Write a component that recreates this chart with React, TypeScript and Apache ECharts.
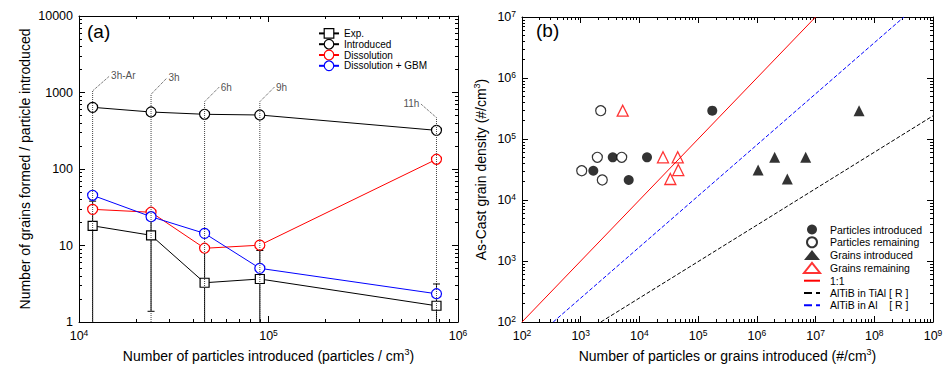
import React, { useEffect, useRef } from 'react';
import * as echarts from 'echarts';

const FONT = '"Liberation Sans", Arial, Helvetica, sans-serif';

// ---------- Panel (a) ----------
const particlesIntroduced = [11800, 24000, 46000, 90000, 770000];
const expGrains = [18.1, 13.6, 3.26, 3.65, 1.63];
const expErrLow = [0.4, 1.38, 0.4, 0.4, 0.4];
const expErrHigh = [38, 26, 8.3, 8.6, 3.14];
const introducedGrains = [640, 556, 519, 508, 320];
const dissolutionGrains = [29.7, 27.2, 9.2, 10.1, 134];
const gbmGrains = [45.3, 23.8, 14.4, 5.03, 2.34];
const conditionLabels = ['3h-Ar', '3h', '6h', '9h', '11h'];
const conditionLineTop = [1050, 947, 758, 758, 469];
const conditionLabelX = [14500, 29100, 55000, 107600, 637000];
const conditionLabelY = [1644, 1548, 1180, 1180, 708];
const conditionLabelSide = ['right', 'right', 'right', 'right', 'left'];
const legendA = ['Exp.', 'Introduced', 'Dissolution', 'Dissolution + GBM'];

// ---------- Panel (b) ----------
const partIntroX = [174000, 3510, 13460, 1640, 6570];
const partIntroY = [291000, 50100, 50100, 30200, 21300];
const partRemainX = [2190, 1920, 4990, 1040, 2330];
const partRemainY = [291000, 50100, 50100, 30200, 21300];
const grainIntroX = [5.5e7, 2.01e6, 6.79e6, 1.05e6, 3.3e6];
const grainIntroY = [291000, 50100, 50100, 31000, 22100];
const grainRemainX = [5190, 25200, 44900, 45900, 33600];
const grainRemainY = [291000, 50100, 50100, 31000, 22100];
const oneToOneX = [100, 1e7];
const oneToOneY = [100, 1e7];
const tiAlX = [2200, 1e9];
const tiAlY = [100, 2.4e5];
const alX = [340, 3.2e8];
const alY = [100, 1e7];
const legendBMarkers = ['Particles introduced', 'Particles remaining', 'Grains introduced', 'Grains remaining'];
const legendBLines = ['1:1', 'AlTiB in TiAl [ R ]', 'AlTiB in Al [ R ]'];

const zip = (xs: number[], ys: number[]) => xs.map((x, i) => [x, ys[i]]);

const powLabel = (v: number) => `{b|10}{s|${Math.round(Math.log10(v))}}`;
const powRich = {
  b: { fontSize: 12.5, fontFamily: FONT, color: '#000', lineHeight: 16 },
  s: { fontSize: 8.5, fontFamily: FONT, color: '#000', verticalAlign: 'top', lineHeight: 10 },
};

const axisBase = (extra: any) => ({
  type: 'log',
  logBase: 10,
  axisLine: { show: true, onZero: false, lineStyle: { color: '#000', width: 1 } },
  axisTick: { show: true, inside: true, length: 6, lineStyle: { color: '#000', width: 1 } },
  minorTick: { show: true, splitNumber: 9, length: 3, lineStyle: { color: '#000', width: 1 } },
  splitLine: { show: false },
  minorSplitLine: { show: false },
  ...extra,
});

const nameRich = {
  s: { fontSize: 9, fontFamily: FONT, color: '#000', verticalAlign: 'top', lineHeight: 10 },
};
const nameStyle = { fontSize: 14, fontFamily: FONT, color: '#000', lineHeight: 18, rich: nameRich };

function buildOption() {
  const openBlack = { color: '#fff', borderColor: '#000', borderWidth: 1.2 };
  const lineSeriesA = (name: string, data: number[], symbol: string, size: number, color: string) => ({
    type: 'line',
    name,
    xAxisIndex: 0,
    yAxisIndex: 0,
    data: zip(particlesIntroduced, data),
    symbol,
    symbolSize: size,
    showSymbol: true,
    lineStyle: { color, width: 1 },
    itemStyle: { color: '#fff', borderColor: color, borderWidth: 1.2 },
    z: 3,
  });

  const annotLines = conditionLabels.map((_, i) => ({
    type: 'line',
    name: 'annot' + i,
    xAxisIndex: 0,
    yAxisIndex: 0,
    data: [
      [particlesIntroduced[i], 1],
      [particlesIntroduced[i], conditionLineTop[i]],
      [conditionLabelX[i], conditionLabelY[i]],
    ],
    symbol: 'none',
    lineStyle: { type: 'dotted', color: '#444', width: 1 },
    z: 6,
    silent: true,
  }));

  const annotText = {
    type: 'scatter',
    name: 'annotText',
    xAxisIndex: 0,
    yAxisIndex: 0,
    symbolSize: 1,
    itemStyle: { color: 'transparent' },
    silent: true,
    z: 6,
    data: conditionLabels.map((t, i) => ({
      value: [conditionLabelX[i], conditionLabelY[i]],
      label: {
        show: true,
        position: conditionLabelSide[i],
        distance: 1,
        formatter: t,
        fontSize: 10,
        fontFamily: FONT,
        color: '#222',
      },
    })),
  };

  const errorBars = {
    type: 'custom',
    name: 'errbars',
    xAxisIndex: 0,
    yAxisIndex: 0,
    clip: true,
    z: 2,
    silent: true,
    data: particlesIntroduced.map((x, i) => [x, expErrLow[i], expErrHigh[i]]),
    encode: { x: 0, y: [1, 2] },
    renderItem: (params: any, api: any) => {
      const x = api.value(0);
      const lo = api.value(1);
      const hi = api.value(2);
      const top = api.coord([x, hi]);
      const bot = api.coord([x, lo]);
      const cap = 3.5;
      const style = { stroke: '#000', lineWidth: 1 };
      return {
        type: 'group',
        children: [
          { type: 'line', shape: { x1: top[0], y1: top[1], x2: bot[0], y2: bot[1] }, style },
          { type: 'line', shape: { x1: top[0] - cap, y1: top[1], x2: top[0] + cap, y2: top[1] }, style },
          { type: 'line', shape: { x1: bot[0] - cap, y1: bot[1], x2: bot[0] + cap, y2: bot[1] }, style },
        ],
      };
    },
  };

  const scatterB = (name: string, xs: number[], ys: number[], symbol: string, size: number, itemStyle: any) => ({
    type: 'scatter',
    name,
    xAxisIndex: 2,
    yAxisIndex: 2,
    data: zip(xs, ys),
    symbol,
    symbolSize: size,
    symbolKeepAspect: true,
    itemStyle,
    z: 4,
  });

  const refLine = (name: string, xs: number[], ys: number[], color: string, type: string) => ({
    type: 'line',
    name,
    xAxisIndex: 2,
    yAxisIndex: 2,
    data: zip(xs, ys),
    symbol: 'none',
    lineStyle: { color, width: 1, type },
    itemStyle: { color },
    z: 3,
  });

  const nbsp = '\u00a0';
  const legendBData = [
    ...legendBMarkers.map((n) => ({ name: n })),
    ...legendBLines.map((n) => ({
      name: n,
      itemStyle: { color: 'transparent', borderColor: 'transparent', borderWidth: 0, opacity: 0 },
    })),
  ];

  return {
    animation: false,
    backgroundColor: '#fff',
    textStyle: { fontFamily: FONT, color: '#000' },
    grid: [
      { left: 79, top: 16, width: 379, height: 306, containLabel: false, outerBoundsMode: 'none' },
      { left: 522, top: 17, width: 411, height: 305, containLabel: false, outerBoundsMode: 'none' },
    ],
    xAxis: [
      axisBase({
        gridIndex: 0,
        min: 1e4,
        max: 1e6,
        position: 'bottom',
        axisLabel: { formatter: powLabel, rich: powRich, margin: 6 },
        name: 'Number of particles introduced (particles / cm{s|3})',
        nameLocation: 'middle',
        nameGap: 25,
        nameTextStyle: nameStyle,
      }),
      axisBase({ gridIndex: 0, min: 1e4, max: 1e6, position: 'top', axisLabel: { show: false } }),
      axisBase({
        gridIndex: 1,
        min: 100,
        max: 1e9,
        position: 'bottom',
        axisLabel: { formatter: powLabel, rich: powRich, margin: 6 },
        name: 'Number of particles or grains introduced (#/cm{s|3})',
        nameLocation: 'middle',
        nameGap: 25,
        nameTextStyle: nameStyle,
      }),
      axisBase({ gridIndex: 1, min: 100, max: 1e9, position: 'top', axisLabel: { show: false } }),
    ],
    yAxis: [
      axisBase({
        gridIndex: 0,
        min: 1,
        max: 1e4,
        position: 'left',
        axisLabel: {
          formatter: (v: number) => String(Math.round(v)),
          fontSize: 12.5,
          fontFamily: FONT,
          color: '#000',
          margin: 6,
        },
        name: 'Number of grains formed / particle introduced',
        nameLocation: 'middle',
        nameGap: 40,
        nameTextStyle: nameStyle,
      }),
      axisBase({ gridIndex: 0, min: 1, max: 1e4, position: 'right', axisLabel: { show: false } }),
      axisBase({
        gridIndex: 1,
        min: 100,
        max: 1e7,
        position: 'left',
        axisLabel: { formatter: powLabel, rich: powRich, margin: 6 },
        name: 'As-Cast grain density (#/cm{s|3})',
        nameLocation: 'middle',
        nameGap: 32,
        nameTextStyle: nameStyle,
      }),
      axisBase({ gridIndex: 1, min: 100, max: 1e7, position: 'right', axisLabel: { show: false } }),
    ],
    legend: [
      {
        data: legendA,
        orient: 'vertical',
        left: 313,
        top: 23,
        itemWidth: 20,
        itemHeight: 12,
        itemGap: 0,
        selectedMode: false,
        itemStyle: { borderWidth: 1.2 },
        textStyle: { fontSize: 10, fontFamily: FONT, color: '#000' },
      },
      {
        data: legendBData,
        orient: 'vertical',
        left: 798,
        top: 219,
        itemWidth: 16,
        itemHeight: 10,
        itemGap: 1.3,
        selectedMode: false,
        textStyle: { fontSize: 10.5, fontFamily: FONT, color: '#000', padding: [0, 0, 0, 5] },
        formatter: (name: string) =>
          name === 'AlTiB in Al [ R ]' ? 'AlTiB in Al' + nbsp.repeat(4) + '[ R ]' : name,
      },
    ],
    graphic: [
      { type: 'text', left: 87, top: 22, style: { text: '(a)', fontSize: 19, fontFamily: FONT, fill: '#000' } },
      { type: 'text', left: 536, top: 21, style: { text: '(b)', fontSize: 19, fontFamily: FONT, fill: '#000' } },
    ],
    series: [
      errorBars,
      lineSeriesA('Exp.', expGrains, 'rect', 9, '#000'),
      lineSeriesA('Introduced', introducedGrains, 'circle', 10, '#000'),
      lineSeriesA('Dissolution', dissolutionGrains, 'circle', 10, '#ff0000'),
      lineSeriesA('Dissolution + GBM', gbmGrains, 'circle', 10, '#0000ff'),
      ...annotLines,
      annotText,
      refLine('1:1', oneToOneX, oneToOneY, '#ff0000', 'solid'),
      refLine('AlTiB in TiAl [ R ]', tiAlX, tiAlY, '#000', 'dashed'),
      refLine('AlTiB in Al [ R ]', alX, alY, '#0000ff', 'dashed'),
      scatterB('Particles introduced', partIntroX, partIntroY, 'circle', 10, { color: '#000' }),
      scatterB('Particles remaining', partRemainX, partRemainY, 'circle', 10, openBlack),
      scatterB('Grains introduced', grainIntroX, grainIntroY, 'triangle', 11, { color: '#000' }),
      scatterB('Grains remaining', grainRemainX, grainRemainY, 'triangle', 11, {
        color: 'transparent',
        borderColor: '#ff0000',
        borderWidth: 1.3,
      }),
    ],
  };
}

export default function App() {
  const ref = useRef<HTMLDivElement>(null);
  useEffect(() => {
    if (!ref.current) return;
    const chart = echarts.init(ref.current, null, { renderer: 'svg' });
    chart.setOption(buildOption() as any);
    return () => chart.dispose();
  }, []);
  return (
    <div
      ref={ref}
      style={{ position: 'absolute', left: 0, top: 0, width: 945, height: 367, background: '#fff' }}
    />
  );
}
